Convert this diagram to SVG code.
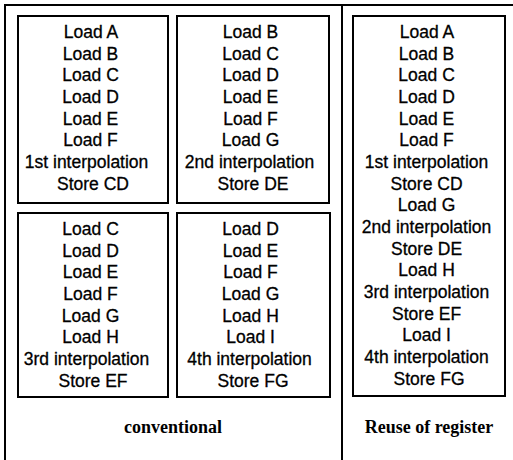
<svg xmlns="http://www.w3.org/2000/svg" width="513" height="460" viewBox="0 0 513 460">
  <style>
    .frame { fill: none; stroke: #000; stroke-width: 2; }
    .box { fill: #fff; stroke: #000; stroke-width: 2; }
    .step { font-family: "Liberation Sans", Arial, sans-serif; font-size: 17.5px; fill: #000; stroke: #000; stroke-width: 0.3; text-anchor: middle; }
    .caption { font-family: "Liberation Serif", "Times New Roman", serif; font-size: 18px; font-weight: bold; fill: #000; text-anchor: middle; }
  </style>
  <rect width="513" height="460" fill="#fff"/>

  <!-- outer frame: top rule, left rule and the column divider -->
  <g id="frame">
    <line class="frame" x1="4" y1="5" x2="513" y2="5"/>
    <line class="frame" x1="5" y1="4" x2="5" y2="460"/>
    <line class="frame" x1="342" y1="5" x2="342" y2="460"/>
  </g>

  <g id="connectors"></g>

  <g id="conv1">
    <rect class="box" x="18" y="16" width="150" height="187"/>
    <text class="step" x="93">
      <tspan x="93" y="38">Load A</tspan>
      <tspan x="93" y="60">Load B</tspan>
      <tspan x="93" y="81">Load C</tspan>
      <tspan x="93" y="103">Load D</tspan>
      <tspan x="93" y="125">Load E</tspan>
      <tspan x="93" y="146">Load F</tspan>
      <tspan x="89" y="168">1st interpolation</tspan>
      <tspan x="93" y="190">Store CD</tspan>
    </text>
  </g>

  <g id="conv2">
    <rect class="box" x="177" y="16" width="152" height="187"/>
    <text class="step" x="253">
      <tspan x="253" y="38">Load B</tspan>
      <tspan x="253" y="60">Load C</tspan>
      <tspan x="253" y="81">Load D</tspan>
      <tspan x="253" y="103">Load E</tspan>
      <tspan x="253" y="125">Load F</tspan>
      <tspan x="253" y="146">Load G</tspan>
      <tspan x="252" y="168">2nd interpolation</tspan>
      <tspan x="253" y="190">Store DE</tspan>
    </text>
  </g>

  <g id="conv3">
    <rect class="box" x="18" y="213" width="150" height="184"/>
    <text class="step" x="93">
      <tspan x="93" y="235">Load C</tspan>
      <tspan x="93" y="257">Load D</tspan>
      <tspan x="93" y="278">Load E</tspan>
      <tspan x="93" y="300">Load F</tspan>
      <tspan x="93" y="322">Load G</tspan>
      <tspan x="93" y="343">Load H</tspan>
      <tspan x="89" y="365">3rd interpolation</tspan>
      <tspan x="93" y="387">Store EF</tspan>
    </text>
  </g>

  <g id="conv4">
    <rect class="box" x="177" y="213" width="153" height="184"/>
    <text class="step" x="253">
      <tspan x="253" y="235">Load D</tspan>
      <tspan x="253" y="257">Load E</tspan>
      <tspan x="253" y="278">Load F</tspan>
      <tspan x="253" y="300">Load G</tspan>
      <tspan x="253" y="322">Load H</tspan>
      <tspan x="253" y="343">Load I</tspan>
      <tspan x="252" y="365">4th interpolation</tspan>
      <tspan x="253" y="387">Store FG</tspan>
    </text>
  </g>

  <g id="reuse">
    <rect class="box" x="353" y="16" width="152" height="380"/>
    <text class="step" x="429">
      <tspan x="429" y="38">Load A</tspan>
      <tspan x="429" y="60">Load B</tspan>
      <tspan x="429" y="81">Load C</tspan>
      <tspan x="429" y="103">Load D</tspan>
      <tspan x="429" y="125">Load E</tspan>
      <tspan x="429" y="146">Load F</tspan>
      <tspan x="429" y="168">1st interpolation</tspan>
      <tspan x="429" y="190">Store CD</tspan>
      <tspan x="429" y="211">Load G</tspan>
      <tspan x="429" y="233">2nd interpolation</tspan>
      <tspan x="429" y="255">Store DE</tspan>
      <tspan x="429" y="276">Load H</tspan>
      <tspan x="429" y="298">3rd interpolation</tspan>
      <tspan x="429" y="320">Store EF</tspan>
      <tspan x="429" y="341">Load I</tspan>
      <tspan x="429" y="363">4th interpolation</tspan>
      <tspan x="429" y="385">Store FG</tspan>
    </text>
  </g>

  <g id="captions">
    <text class="caption" x="173" y="433">conventional</text>
    <text class="caption" x="429" y="433">Reuse of register</text>
  </g>
</svg>
